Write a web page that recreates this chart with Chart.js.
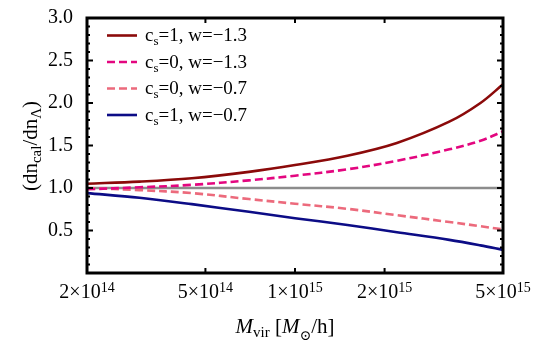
<!DOCTYPE html>
<html>
<head>
<meta charset="utf-8">
<script src="https://cdn.jsdelivr.net/npm/chart.js@4/dist/chart.umd.min.js"></script>
<style>
  html, body { margin: 0; padding: 0; background: #fff; }
  #wrap { width: 540px; height: 349px; }
</style>
</head>
<body>
<div id="wrap"><canvas id="ratioChart" width="540" height="349"></canvas></div>
<script>
const masses = [2e14, 3e14, 4.5e14, 7e14, 1e15, 1.5e15, 2.2e15, 3.3e15, 4.2e15, 5e15];

// ratio dn_cal / dn_Lambda for each model
const cs1_wm13 = [1.05, 1.075, 1.115, 1.19, 1.27, 1.38, 1.53, 1.78, 2.00, 2.22];
const cs0_wm13 = [0.985, 1.008, 1.037, 1.09, 1.145, 1.22, 1.32, 1.455, 1.555, 1.667];
const cs0_wm07 = [1.00, 0.975, 0.94, 0.87, 0.815, 0.755, 0.68, 0.60, 0.55, 0.513];
const cs1_wm07 = [0.94, 0.885, 0.81, 0.72, 0.645, 0.565, 0.48, 0.39, 0.325, 0.272];

const seriesNames = [
    ['c', 's', '=1, w=\u22121.3'],
    ['c', 's', '=0, w=\u22121.3'],
    ['c', 's', '=0, w=\u22120.7'],
    ['c', 's', '=1, w=\u22120.7']
];

const xTicks = [2e14, 5e14, 1e15, 2e15, 5e15];
const xTickMantissa = ['2', '5', '1', '2', '5'];
const xTickExponent = ['14', '14', '15', '15', '15'];
const yTicks = [0.5, 1.0, 1.5, 2.0, 2.5, 3.0];

const SERIF = '"Liberation Serif", "DejaVu Serif", serif';

const toPoints = (vals) => masses.map((m, i) => ({ x: m, y: vals[i] }));

// draws text made of pieces, some lowered (subscript) or raised (superscript)
function drawRich(ctx, parts, x, y, align) {
    let total = 0;
    parts.forEach(p => {
        ctx.font = (p.italic ? 'italic ' : '') + p.size + 'px ' + SERIF;
        p.w = ctx.measureText(p.t).width;
        total += p.w;
    });
    let cx = x;
    if (align === 'center') cx = x - total / 2;
    else if (align === 'right') cx = x - total;
    parts.forEach(p => {
        ctx.font = (p.italic ? 'italic ' : '') + p.size + 'px ' + SERIF;
        ctx.textAlign = 'left';
        ctx.textBaseline = 'alphabetic';
        ctx.fillText(p.t, cx, y + (p.dy || 0));
        cx += p.w;
    });
}

const framePlugin = {
    id: 'frame',
    afterDraw(chart) {
        const { ctx, chartArea: a, scales } = chart;
        const xs = scales.x, ys = scales.y;
        ctx.save();
        ctx.strokeStyle = '#000';
        ctx.fillStyle = '#000';

        // inward ticks, left and right
        ctx.lineWidth = 2;
        for (let k = 1; k < 30; k++) {
            const py = ys.getPixelForValue(k / 10);
            const len = (k % 5 === 0) ? 6 : 3;
            ctx.beginPath();
            ctx.moveTo(a.left, py); ctx.lineTo(a.left + len, py);
            ctx.moveTo(a.right, py); ctx.lineTo(a.right - len, py);
            ctx.stroke();
        }
        // inward ticks, top and bottom
        xTicks.forEach(v => {
            const px = xs.getPixelForValue(v);
            ctx.beginPath();
            ctx.moveTo(px, a.bottom); ctx.lineTo(px, a.bottom - 5);
            ctx.moveTo(px, a.top); ctx.lineTo(px, a.top + 5);
            ctx.stroke();
        });

        // frame
        ctx.lineWidth = 3;
        ctx.strokeRect(a.left, a.top, a.right - a.left, a.bottom - a.top);

        // x tick labels with exponent
        xTicks.forEach((v, i) => {
            const px = xs.getPixelForValue(v);
            drawRich(ctx, [
                { t: xTickMantissa[i] + '\u00d710', size: 20 },
                { t: xTickExponent[i], size: 14, dy: -6 }
            ], px, 298, 'center');
        });

        // x axis title
        drawRich(ctx, [
            { t: 'M', size: 21, italic: true },
            { t: 'vir', size: 15, dy: 4 },
            { t: ' [', size: 21 },
            { t: 'M', size: 21, italic: true },
            { t: '\u2299', size: 14, dy: 7 },
            { t: '/h]', size: 21 }
        ], 285, 333, 'center');

        // y axis title, rotated
        ctx.save();
        ctx.translate(37, 146);
        ctx.rotate(-Math.PI / 2);
        drawRich(ctx, [
            { t: '(dn', size: 21 },
            { t: 'cal', size: 15, dy: 4 },
            { t: '/dn', size: 21 },
            { t: '\u039b', size: 15, dy: 4 },
            { t: ')', size: 21 }
        ], 0, 0, 'center');
        ctx.restore();

        // legend
        chart.data.datasets.slice(0, 4).forEach((ds, i) => {
            const ly = 35.5 + i * 26.5;
            ctx.save();
            ctx.strokeStyle = ds.borderColor;
            ctx.lineWidth = ds.borderWidth;
            ctx.setLineDash(ds.borderDash || []);
            ctx.beginPath();
            ctx.moveTo(107, ly); ctx.lineTo(137, ly);
            ctx.stroke();
            ctx.restore();
            const n = seriesNames[i];
            drawRich(ctx, [
                { t: n[0], size: 19 },
                { t: n[1], size: 13, dy: 4 },
                { t: n[2], size: 19 }
            ], 145, ly + 5.5, 'left');
        });
        ctx.restore();
    }
};

const lineStyle = (label, vals, color, dash) => ({
    label: label,
    data: toPoints(vals),
    borderColor: color,
    borderWidth: 2.6,
    borderDash: dash,
    pointRadius: 0,
    fill: false,
    tension: 0.35
});

new Chart(document.getElementById('ratioChart').getContext('2d'), {
    type: 'line',
    data: {
        datasets: [
            lineStyle('cs=1, w=-1.3', cs1_wm13, '#8b0a0a', []),
            lineStyle('cs=0, w=-1.3', cs0_wm13, '#e3067f', [8, 4]),
            lineStyle('cs=0, w=-0.7', cs0_wm07, '#ec6a7c', [8, 4]),
            lineStyle('cs=1, w=-0.7', cs1_wm07, '#0c0c86', []),
            {
                label: 'LCDM',
                data: [{ x: masses[0], y: 1 }, { x: masses[masses.length - 1], y: 1 }],
                borderColor: '#8c8c8c',
                borderWidth: 2.6,
                pointRadius: 0
            }
        ]
    },
    options: {
        responsive: false,
        animation: false,
        events: [],
        layout: { padding: { top: 14, right: 37, left: 0, bottom: 0 } },
        plugins: {
            legend: { display: false },
            tooltip: { enabled: false },
            title: { display: false }
        },
        scales: {
            x: {
                type: 'logarithmic',
                min: 2e14,
                max: 5e15,
                afterBuildTicks: (s) => { s.ticks = xTicks.map(v => ({ value: v })); },
                afterFit: (s) => { s.height = 76; },
                grid: { display: false },
                border: { display: false },
                ticks: { display: false }
            },
            y: {
                min: 0,
                max: 3,
                afterBuildTicks: (s) => { s.ticks = yTicks.map(v => ({ value: v })); },
                afterFit: (s) => { s.width = 87; },
                grid: { display: false },
                border: { display: false },
                ticks: {
                    padding: 6,
                    color: '#000',
                    font: { family: SERIF, size: 20 },
                    callback: (v) => Number(v).toFixed(1)
                }
            }
        }
    },
    plugins: [framePlugin]
});
</script>
</body>
</html>
